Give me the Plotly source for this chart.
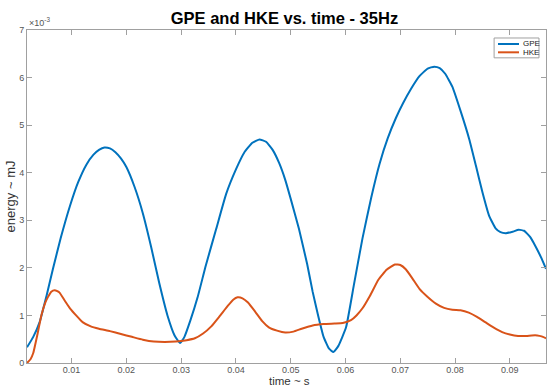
import plotly.graph_objects as go

# time (s) and energy (units of 1e-3 mJ)
gpe_t = [0.00186, 0.0030, 0.0042, 0.0054, 0.0066, 0.0080, 0.0097, 0.0112, 0.0127, 0.0140,
         0.0150, 0.0160, 0.0170, 0.0180, 0.0190, 0.0200, 0.0215, 0.0230, 0.0245, 0.0260,
         0.0275, 0.0288, 0.0298, 0.0306, 0.0317, 0.0330, 0.0345, 0.0364, 0.0382, 0.0400,
         0.0415, 0.0430, 0.0443, 0.0455, 0.0467, 0.0479, 0.0490, 0.0500, 0.0515, 0.0530,
         0.0540, 0.0550, 0.0560, 0.0570, 0.0578, 0.0587, 0.0601, 0.0615, 0.0631, 0.0647,
         0.0662, 0.0677, 0.0692, 0.0705, 0.0720, 0.0735, 0.0750, 0.0762, 0.0772, 0.0782,
         0.0795, 0.0810, 0.0826, 0.0838, 0.0850, 0.0862, 0.0874, 0.0883, 0.0893, 0.0905,
         0.0916, 0.0926, 0.0937, 0.0947, 0.0957, 0.0966]
gpe_e = [0.33, 0.55, 0.87, 1.40, 1.98, 2.62, 3.30, 3.80, 4.17, 4.38,
         4.48, 4.53, 4.51, 4.43, 4.30, 4.12, 3.70, 3.15, 2.45, 1.68,
         1.00, 0.58, 0.42, 0.55, 0.90, 1.38, 2.05, 2.82, 3.55, 4.07,
         4.42, 4.63, 4.70, 4.65, 4.48, 4.20, 3.85, 3.45, 2.82, 2.08,
         1.50, 1.00, 0.55, 0.30, 0.23, 0.36, 0.75, 1.62, 2.62, 3.48,
         4.18, 4.72, 5.15, 5.46, 5.77, 6.03, 6.19, 6.23, 6.20, 6.08,
         5.81, 5.30, 4.70, 4.15, 3.59, 3.10, 2.83, 2.75, 2.73, 2.76,
         2.80, 2.78, 2.65, 2.45, 2.22, 1.98]

hke_t = [0.00186, 0.0025, 0.0030, 0.0038, 0.0045, 0.0052, 0.0057, 0.0063, 0.0069, 0.0074,
         0.0078, 0.0087, 0.0097, 0.0110, 0.0120, 0.0135, 0.0150, 0.0170, 0.0190, 0.0210,
         0.0230, 0.0250, 0.0270, 0.0290, 0.0310, 0.0325, 0.0340, 0.0355, 0.0370, 0.0385,
         0.0395, 0.0403, 0.0412, 0.0422, 0.0435, 0.0448, 0.0460, 0.0475, 0.0490, 0.0505,
         0.0520, 0.0540, 0.0560, 0.0580, 0.0595, 0.0610, 0.0620, 0.0631, 0.0645, 0.0660,
         0.0675, 0.0690, 0.0700, 0.0710, 0.0722, 0.0735, 0.0750, 0.0765, 0.0780, 0.0795,
         0.0810, 0.0825, 0.0840, 0.0855, 0.0870, 0.0886, 0.0900, 0.0915, 0.0930, 0.0940,
         0.0950, 0.0958, 0.0966]
hke_e = [0.00, 0.08, 0.21, 0.62, 1.01, 1.27, 1.39, 1.50, 1.53, 1.51,
         1.48, 1.32, 1.15, 0.98, 0.86, 0.77, 0.72, 0.67, 0.61, 0.55,
         0.49, 0.45, 0.44, 0.45, 0.48, 0.52, 0.62, 0.77, 0.98, 1.20,
         1.33, 1.38, 1.36, 1.27, 1.08, 0.88, 0.75, 0.68, 0.64, 0.66,
         0.72, 0.79, 0.82, 0.83, 0.84, 0.90, 1.00, 1.15, 1.42, 1.75,
         1.96, 2.07, 2.06, 1.97, 1.78, 1.56, 1.39, 1.25, 1.16, 1.12,
         1.11, 1.06, 0.97, 0.86, 0.75, 0.65, 0.60, 0.57, 0.57, 0.58,
         0.58, 0.56, 0.52]

xticks = [0.01, 0.02, 0.03, 0.04, 0.05, 0.06, 0.07, 0.08, 0.09]
yticks = [0, 1, 2, 3, 4, 5, 6, 7]
series_names = ["GPE", "HKE"]
colors = ["#0072BD", "#D95319"]

FONT = "Liberation Sans, Arial, Helvetica"

fig = go.Figure()
for t, e, name, c in [(gpe_t, gpe_e, series_names[0], colors[0]),
                      (hke_t, hke_e, series_names[1], colors[1])]:
    fig.add_trace(go.Scatter(x=t, y=e, mode="lines", name=name, showlegend=False,
                             line=dict(color=c, width=2, shape="spline", smoothing=0.4)))

axis_common = dict(showgrid=False, zeroline=False, showline=True, linecolor="#a0a0a0",
                   linewidth=1, mirror="ticks", ticks="inside", ticklen=5, tickcolor="#a0a0a0",
                   tickfont=dict(family=FONT, size=9, color="#555555"))

fig.update_layout(
    width=547, height=388,
    margin=dict(l=27, r=1, t=30, b=25),
    paper_bgcolor="white", plot_bgcolor="white",
    title=dict(text="<b>GPE and HKE vs. time - 35Hz</b>", x=0.52, xanchor="center",
               y=0.952, yanchor="middle",
               font=dict(family=FONT, size=16.5, color="black")),
    xaxis=dict(range=[0.00186, 0.0966], tickvals=xticks, ticktext=[f"{v:g}" for v in xticks],
               ticklabelstandoff=-2, **axis_common),
    yaxis=dict(range=[0, 7], tickvals=yticks, **axis_common),
    showlegend=False,
)

# axis titles (paper height 333 px here)
fig.add_annotation(text="time ~ s", xref="paper", yref="paper", x=0.505, y=-25 / 333,
                   xanchor="center", yanchor="bottom", showarrow=False, borderpad=0,
                   font=dict(family=FONT, size=11.5, color="#333333"))
fig.add_annotation(text="energy ~ mJ", xref="paper", yref="paper", x=-0.031, y=0.50,
                   xanchor="center", yanchor="middle", showarrow=False, textangle=-90,
                   font=dict(family=FONT, size=13, color="#333333"))
# exponent
fig.add_annotation(text="×10<sup>-3</sup>", xref="paper", yref="paper", x=0.0, y=1.0,
                   xanchor="left", yanchor="bottom", showarrow=False,
                   font=dict(family=FONT, size=9, color="#555555"))

# legend box (MATLAB style)
fig.add_shape(type="rect", xref="paper", yref="paper", x0=0.900, x1=0.9865,
              y0=0.9164, y1=0.976, line=dict(color="#a0a0a0", width=1), fillcolor="white")
for i, (name, c) in enumerate(zip(series_names, colors)):
    yy = 0.958 - i * 0.025
    fig.add_shape(type="line", xref="paper", yref="paper", x0=0.9075, x1=0.948,
                  y0=yy, y1=yy, line=dict(color=c, width=2))
    fig.add_annotation(text=name, xref="paper", yref="paper", x=0.951, y=yy,
                       xanchor="left", yanchor="middle", showarrow=False,
                       font=dict(family=FONT, size=8, color="#222222"))

fig.write_html("out.html")
